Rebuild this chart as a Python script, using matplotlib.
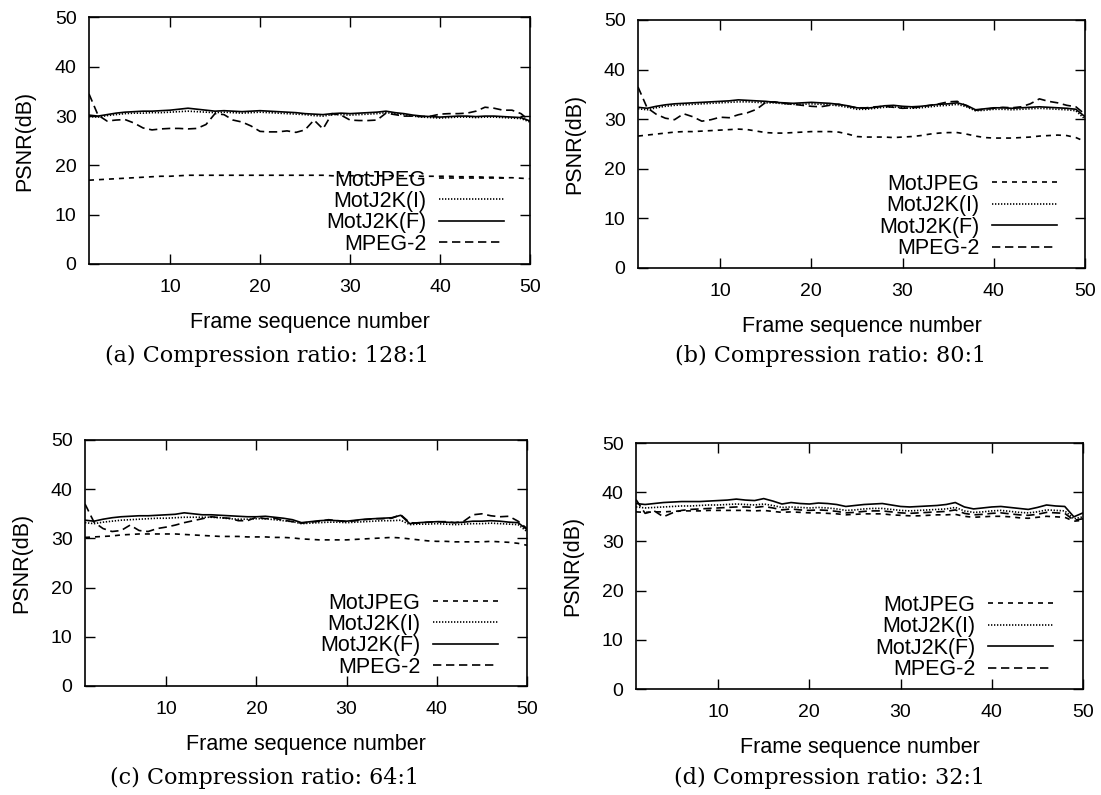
import matplotlib
matplotlib.use("Agg")
import matplotlib.pyplot as plt
import numpy as np

plt.rcParams['font.family'] = ['Liberation Sans', 'DejaVu Sans']

frames = list(range(1, 51))
series_names = ["MotJPEG", "MotJ2K(I)", "MotJ2K(F)", "MPEG-2"]
captions = ["(a) Compression ratio: 128:1", "(b) Compression ratio: 80:1",
            "(c) Compression ratio: 64:1", "(d) Compression ratio: 32:1"]
x_label = "Frame sequence number"
y_label = "PSNR(dB)"
x_ticks = [10, 20, 30, 40, 50]
y_ticks = [0, 10, 20, 30, 40, 50]

# ---- (a) 128:1 ----
a_jpeg = [17.0, 17.1, 17.2, 17.3, 17.4, 17.5, 17.6, 17.7, 17.8, 17.8,
          17.9, 18.0, 18.0, 18.0, 18.0, 18.0, 18.0, 18.0, 18.0, 18.0,
          18.0, 18.0, 18.0, 18.0, 18.0, 18.0, 18.0, 17.9, 17.9, 17.9,
          17.9, 17.9, 17.9, 17.9, 17.9, 17.9, 17.9, 17.8, 17.8, 17.8,
          17.8, 17.7, 17.7, 17.7, 17.6, 17.6, 17.5, 17.5, 17.4, 17.3]
a_j2ki = [29.9, 29.8, 30.1, 30.3, 30.5, 30.6, 30.6, 30.7, 30.7, 30.8,
          30.9, 31.0, 30.9, 30.8, 30.7, 30.8, 30.7, 30.6, 30.7, 30.8,
          30.7, 30.6, 30.5, 30.4, 30.3, 30.1, 30.0, 30.3, 30.3, 30.2,
          30.3, 30.4, 30.5, 30.7, 30.5, 30.3, 30.0, 29.8, 29.7, 29.6,
          29.7, 29.8, 29.8, 29.7, 29.8, 29.8, 29.7, 29.6, 29.5, 28.8]
a_j2kf = [30.2, 30.0, 30.3, 30.6, 30.8, 30.9, 31.0, 31.0, 31.1, 31.2,
          31.4, 31.6, 31.4, 31.2, 31.0, 31.1, 31.0, 30.9, 31.0, 31.1,
          31.0, 30.9, 30.8, 30.7, 30.5, 30.4, 30.3, 30.5, 30.6, 30.5,
          30.6, 30.7, 30.8, 31.0, 30.7, 30.5, 30.2, 30.0, 29.9, 29.8,
          29.9, 30.0, 30.0, 29.9, 30.0, 30.0, 29.9, 29.8, 29.7, 29.0]
a_mpeg = [34.5, 30.2, 29.0, 29.2, 29.3, 28.6, 27.6, 27.2, 27.4, 27.5,
          27.5, 27.4, 27.5, 28.3, 30.5, 30.3, 29.2, 28.8, 28.0, 26.9,
          26.8, 26.8, 27.0, 26.7, 27.2, 29.2, 27.4, 30.5, 30.2, 29.2,
          29.1, 29.1, 29.2, 30.6, 30.3, 30.0, 30.0, 29.9, 30.0, 30.4,
          30.5, 30.5, 30.6, 31.0, 31.8, 31.6, 31.2, 31.2, 30.5, 29.0]

# ---- (b) 80:1 ----
b_jpeg = [26.6, 26.8, 27.0, 27.2, 27.4, 27.5, 27.5, 27.6, 27.7, 27.8,
          27.9, 28.0, 27.9, 27.6, 27.3, 27.2, 27.2, 27.3, 27.4, 27.5,
          27.5, 27.5, 27.4, 27.0, 26.5, 26.4, 26.4, 26.4, 26.3, 26.4,
          26.5, 26.7, 27.0, 27.2, 27.3, 27.3, 27.0, 26.6, 26.3, 26.2,
          26.2, 26.2, 26.3, 26.4, 26.6, 26.7, 26.8, 26.7, 26.3, 25.5]
b_j2ki = [32.1, 31.9, 32.3, 32.6, 32.8, 32.9, 33.0, 33.1, 33.2, 33.3,
          33.4, 33.5, 33.5, 33.4, 33.3, 33.3, 33.1, 33.0, 33.0, 33.1,
          33.0, 32.9, 32.7, 32.4, 32.0, 32.0, 32.2, 32.4, 32.5, 32.3,
          32.2, 32.3, 32.5, 32.7, 32.8, 33.0, 32.5, 31.7, 31.8, 32.0,
          32.0, 31.9, 32.0, 32.1, 32.2, 32.1, 32.0, 31.9, 31.7, 30.0]
b_j2kf = [32.4, 32.2, 32.6, 32.9, 33.1, 33.2, 33.3, 33.4, 33.5, 33.6,
          33.7, 33.9, 33.8, 33.7, 33.6, 33.4, 33.3, 33.2, 33.3, 33.4,
          33.3, 33.2, 33.0, 32.7, 32.3, 32.2, 32.4, 32.7, 32.8, 32.6,
          32.5, 32.6, 32.8, 33.0, 33.1, 33.3, 32.8, 31.9, 32.1, 32.3,
          32.3, 32.2, 32.3, 32.4, 32.5, 32.4, 32.3, 32.2, 32.0, 30.5]
b_mpeg = [36.5, 32.3, 31.0, 30.2, 29.9, 31.1, 30.5, 29.6, 29.9, 30.4,
          30.3, 30.9, 31.3, 32.0, 33.4, 33.5, 33.2, 33.0, 32.8, 32.6,
          32.5, 32.8, 33.0, 32.6, 32.3, 32.3, 32.5, 32.6, 32.4, 32.2,
          32.3, 32.5, 32.8, 33.1, 33.5, 33.6, 32.7, 31.8, 32.0, 32.2,
          32.4, 32.3, 32.5, 33.1, 34.1, 33.6, 33.3, 32.8, 32.5, 31.0]

# ---- (c) 64:1 ----
c_jpeg = [30.2, 30.3, 30.4, 30.5, 30.7, 30.8, 30.9, 30.9, 30.9, 30.9,
          30.9, 30.8, 30.7, 30.6, 30.5, 30.4, 30.4, 30.4, 30.3, 30.3,
          30.3, 30.2, 30.2, 30.1, 29.9, 29.8, 29.7, 29.7, 29.7, 29.7,
          29.8, 29.9, 30.0, 30.1, 30.2, 30.1, 29.9, 29.7, 29.5, 29.4,
          29.4, 29.3, 29.3, 29.3, 29.3, 29.4, 29.3, 29.2, 29.0, 28.6]
c_j2ki = [33.2, 33.0, 33.3, 33.5, 33.7, 33.8, 33.9, 34.0, 34.1, 34.1,
          34.2, 34.3, 34.3, 34.3, 34.3, 34.2, 34.0, 33.9, 33.9, 34.0,
          34.0, 33.8, 33.6, 33.4, 33.0, 33.1, 33.2, 33.3, 33.3, 33.2,
          33.3, 33.4, 33.5, 33.6, 33.6, 33.7, 32.8, 32.9, 32.9, 33.0,
          32.9, 32.8, 32.9, 33.0, 33.0, 33.1, 33.0, 32.9, 32.8, 31.4]
c_j2kf = [33.7, 33.5, 33.9, 34.2, 34.4, 34.5, 34.6, 34.6, 34.7, 34.8,
          34.9, 35.2, 35.0, 34.8, 34.8, 34.7, 34.6, 34.5, 34.4, 34.4,
          34.5, 34.3, 34.1, 33.8, 33.2, 33.4, 33.6, 33.7, 33.6, 33.5,
          33.7, 33.9, 34.0, 34.1, 34.2, 34.7, 33.0, 33.2, 33.3, 33.4,
          33.3, 33.2, 33.3, 33.5, 33.5, 33.6, 33.5, 33.3, 33.2, 31.8]
c_mpeg = [37.0, 33.3, 32.0, 31.4, 31.6, 32.7, 31.6, 31.4, 32.0, 32.3,
          32.7, 33.2, 33.6, 34.0, 34.4, 34.2, 34.1, 33.6, 33.6, 34.3,
          34.0, 34.1, 33.7, 33.4, 33.1, 33.3, 33.5, 33.8, 33.6, 33.4,
          33.6, 33.8, 34.0, 34.0, 34.1, 34.8, 33.2, 33.1, 33.3, 33.4,
          33.4, 33.2, 33.5, 34.8, 35.0, 34.6, 34.4, 34.5, 33.5, 32.0]

# ---- (d) 32:1 ----
d_jpeg = [36.0, 35.9, 36.0, 36.0, 36.1, 36.2, 36.2, 36.2, 36.3, 36.3,
          36.3, 36.3, 36.3, 36.2, 36.3, 36.1, 35.9, 36.0, 35.9, 35.8,
          35.8, 35.7, 35.6, 35.4, 35.5, 35.6, 35.6, 35.6, 35.4, 35.3,
          35.2, 35.2, 35.3, 35.4, 35.4, 35.5, 35.1, 34.9, 35.0, 35.1,
          35.1, 35.0, 34.8, 34.7, 34.9, 35.1, 35.0, 34.9, 34.1, 34.3]
d_j2ki = [37.0, 36.8, 36.9, 37.0, 37.1, 37.2, 37.2, 37.3, 37.4, 37.4,
          37.5, 37.6, 37.5, 37.4, 37.6, 37.3, 36.9, 37.0, 36.9, 36.8,
          36.9, 36.8, 36.6, 36.3, 36.4, 36.6, 36.7, 36.7, 36.5, 36.3,
          36.2, 36.3, 36.4, 36.5, 36.6, 36.9, 36.2, 35.9, 36.0, 36.2,
          36.3, 36.1, 35.9, 35.8, 36.0, 36.4, 36.3, 36.2, 34.6, 35.0]
d_j2kf = [37.7, 37.5, 37.7, 37.9, 38.0, 38.1, 38.1, 38.1, 38.2, 38.3,
          38.4, 38.6, 38.4, 38.3, 38.7, 38.2, 37.6, 37.9, 37.7, 37.6,
          37.8, 37.7, 37.5, 37.1, 37.3, 37.5, 37.6, 37.7, 37.4, 37.1,
          37.0, 37.1, 37.2, 37.3, 37.5, 37.9, 37.0, 36.6, 36.8, 37.0,
          37.1, 36.9, 36.7, 36.5, 36.9, 37.4, 37.2, 37.1, 35.0, 35.8]
d_mpeg = [38.5, 35.7, 36.2, 35.0, 35.8, 36.3, 36.5, 36.6, 36.7, 36.8,
          36.9, 37.0, 37.0, 36.9, 37.1, 36.8, 36.4, 36.6, 36.4, 36.3,
          36.4, 36.3, 36.1, 35.8, 35.9, 36.1, 36.2, 36.2, 36.0, 35.8,
          35.7, 35.8, 35.9, 36.0, 36.1, 36.4, 35.7, 35.4, 35.5, 35.7,
          35.8, 35.6, 35.4, 35.3, 35.5, 35.9, 35.8, 35.7, 34.3, 34.6]

panels = [
    [a_jpeg, a_j2ki, a_j2kf, a_mpeg],
    [b_jpeg, b_j2ki, b_j2kf, b_mpeg],
    [c_jpeg, c_j2ki, c_j2kf, c_mpeg],
    [d_jpeg, d_j2ki, d_j2kf, d_mpeg],
]

# ---- layout (pixels of the 1101x795 canvas) ----
W, H = 1101, 795
axes_px = [(89, 530, 17.5, 264), (638, 1085, 20, 268),
           (85, 527, 440, 686), (636, 1083, 443, 689)]
caption_px = [(267, 356), (831, 356), (264, 778), (829, 778)]
ylabel_px = [25, 575, 22, 573]
legend_anchor = [(0.941, 0.037), (0.937, 0.036), (0.934, 0.033), (0.933, 0.036)]

styles = [
    dict(linestyle=(0, (3.0, 3.0))),
    dict(linestyle=(0, (0.8, 1.0))),
    dict(linestyle='-'),
    dict(linestyle=(0, (5.0, 2.8))),
]

fig = plt.figure(figsize=(W / 100, H / 100), dpi=100)
FS_TICK = 14
FS_LAB = 15.5
FS_LEG = 15.5

for i, data in enumerate(panels):
    l, r, t, b = axes_px[i]
    ax = fig.add_axes([l / W, 1 - b / H, (r - l) / W, (b - t) / H])
    for name, vals, st in zip(series_names, data, styles):
        ax.plot(frames, vals, color='black', lw=1.2, label=name, **st)
    ax.set_xlim(1, 50)
    ax.set_ylim(0, 50)
    ax.set_xticks(x_ticks)
    ax.set_yticks(y_ticks)
    ax.tick_params(direction='in', length=7, width=1.0, top=True, right=True,
                   labelsize=FS_TICK)
    ax.tick_params(axis='x', pad=11)
    ax.tick_params(axis='y', pad=9)
    for sp in ax.spines.values():
        sp.set_linewidth(1.2)
    ax.set_xlabel(x_label, fontsize=FS_LAB)
    ax.xaxis.set_label_coords(0.5, -(312 - 264) / 246.5)
    ax.set_ylabel(y_label, fontsize=FS_LAB)
    ax.yaxis.set_label_coords((ylabel_px[i] + 10 - l) / (r - l), 0.5)
    ax.legend(loc='lower right', bbox_to_anchor=legend_anchor[i],
              frameon=False, markerfirst=False, fontsize=FS_LEG,
              handlelength=3.0, handletextpad=0.6, labelspacing=0.02,
              borderpad=0, borderaxespad=0)
    cx, cy = caption_px[i]
    fig.text(cx / W, 1 - cy / H, captions[i], family='DejaVu Serif',
             fontsize=16, ha='center', va='center')

fig.savefig('out.png', dpi=100)
